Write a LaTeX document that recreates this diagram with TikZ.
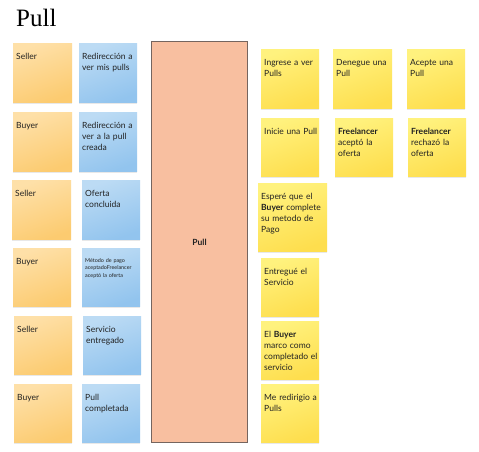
\documentclass[tikz,border=0pt]{standalone}
\usepackage{fontspec}
\setmainfont{Lato}
\newfontfamily\titlefont{Liberation Serif}
\usetikzlibrary{shadows}
\hyphenpenalty=10000
\exhyphenpenalty=10000
\definecolor{orA}{HTML}{FEE0A8}
\definecolor{orB}{HTML}{FCCB70}
\definecolor{blA}{HTML}{BCDBF4}
\definecolor{blB}{HTML}{92C4EE}
\definecolor{yeA}{HTML}{FFF27E}
\definecolor{yeB}{HTML}{FEDE4E}
\definecolor{pullfill}{HTML}{F8BFA0}
\definecolor{pulldraw}{HTML}{75655F}
\definecolor{txt}{HTML}{222222}
\tikzset{
  notebase/.style={rectangle, inner sep=0pt, anchor=north west,
    drop shadow={shadow xshift=0pt, shadow yshift=-2pt, opacity=0.18}},
  orangenote/.style={notebase, top color=orA, bottom color=orB, shading angle=20},
  bluenote/.style={notebase, top color=blA, bottom color=blB, shading angle=20},
  yellownote/.style={notebase, top color=yeA, bottom color=yeB, shading angle=20},
  notetext/.style={anchor=north west, inner sep=0pt, align=left, text=txt,
    font=\fontsize{8.5}{11}\selectfont, text width=55pt},
  tinytext/.style={notetext, font=\fontsize{5.4}{7.5}\selectfont},
}
% #1 name, #2 x, #3 y, #4 w, #5 h, #6 style, #7 text style, #8 text
\newcommand\stickynote[8]{%
  \node[#6, minimum width=#4pt, minimum height=#5pt] (#1) at (#2,#3) {};
  \node[#7] (#1t) at ([xshift=3pt,yshift=-10pt]#1.north west) {#8};
}
\begin{document}
\begin{tikzpicture}[x=1pt,y=-1pt]
\useasboundingbox[fill=white] (0,0) rectangle (479,452);
\node[anchor=base west, inner sep=0pt, font=\titlefont\fontsize{25}{28}\selectfont] (title) at (16,27) {Pull};

% left column: roles
\stickynote{s1}{13}{43}{59}{59}{orangenote}{notetext}{Seller}
\stickynote{s2}{13}{112}{59}{59}{orangenote}{notetext}{Buyer}
\stickynote{s3}{12}{180}{59}{59}{orangenote}{notetext}{Seller}
\stickynote{s4}{13}{248}{58}{58}{orangenote}{notetext}{Buyer}
\stickynote{s5}{14}{316}{58}{58}{orangenote}{notetext}{Seller}
\stickynote{s6}{14}{384}{58}{58}{orangenote}{notetext}{Buyer}

% blue column
\stickynote{b1}{79}{43}{58}{59}{bluenote}{notetext}{Redirección a ver mis pulls}
\stickynote{b2}{79}{112}{58}{59}{bluenote}{notetext}{Redirección a ver a la pull creada}
\stickynote{b3}{82}{180}{58}{59}{bluenote}{notetext}{Oferta concluida}
\stickynote{b4}{82}{248}{58}{58}{bluenote}{tinytext}{Método de pago aceptadoFreelancer aceptó la oferta}
\stickynote{b5}{83}{316}{58}{58}{bluenote}{notetext}{Servicio entregado}
\stickynote{b6}{82}{384}{58}{58}{bluenote}{notetext}{Pull completada}

% central pull box
\node[rectangle, anchor=north west, fill=pullfill, draw=pulldraw, line width=0.9pt,
  minimum width=96pt, minimum height=401pt, inner sep=0pt] (pull) at (151,41) {};
\node[font=\bfseries\fontsize{8.5}{10}\selectfont, text=txt] (pulllabel) at (199.5,242) {Pull};

% yellow notes
\stickynote{y1}{261}{49}{58}{59}{yellownote}{notetext}{Ingrese a ver Pulls}
\stickynote{y2}{333}{49}{59}{59}{yellownote}{notetext}{Denegue una Pull}
\stickynote{y3}{407}{49}{58}{59}{yellownote}{notetext}{Acepte una Pull}
\stickynote{y4}{261}{118}{58}{58}{yellownote}{notetext}{Inicie una Pull}
\stickynote{y5}{335}{118}{58}{58}{yellownote}{notetext}{\textbf{Freelancer} aceptó la oferta}
\stickynote{y6}{408}{118}{58}{58}{yellownote}{notetext}{\textbf{Freelancer} rechazó la oferta}
\stickynote{y7}{258}{183}{69}{68}{yellownote}{notetext,text width=64pt}{Esperé que el \textbf{Buyer} complete su metodo de Pago}
\stickynote{y8}{261}{258}{58}{58}{yellownote}{notetext}{Entregué el Servicio}
\stickynote{y9}{261}{321}{58}{58}{yellownote}{notetext}{El \textbf{Buyer} marco como completado el servicio}
\stickynote{y10}{261}{384}{58}{58}{yellownote}{notetext}{Me redirigio a Pulls}
\end{tikzpicture}
\end{document}
